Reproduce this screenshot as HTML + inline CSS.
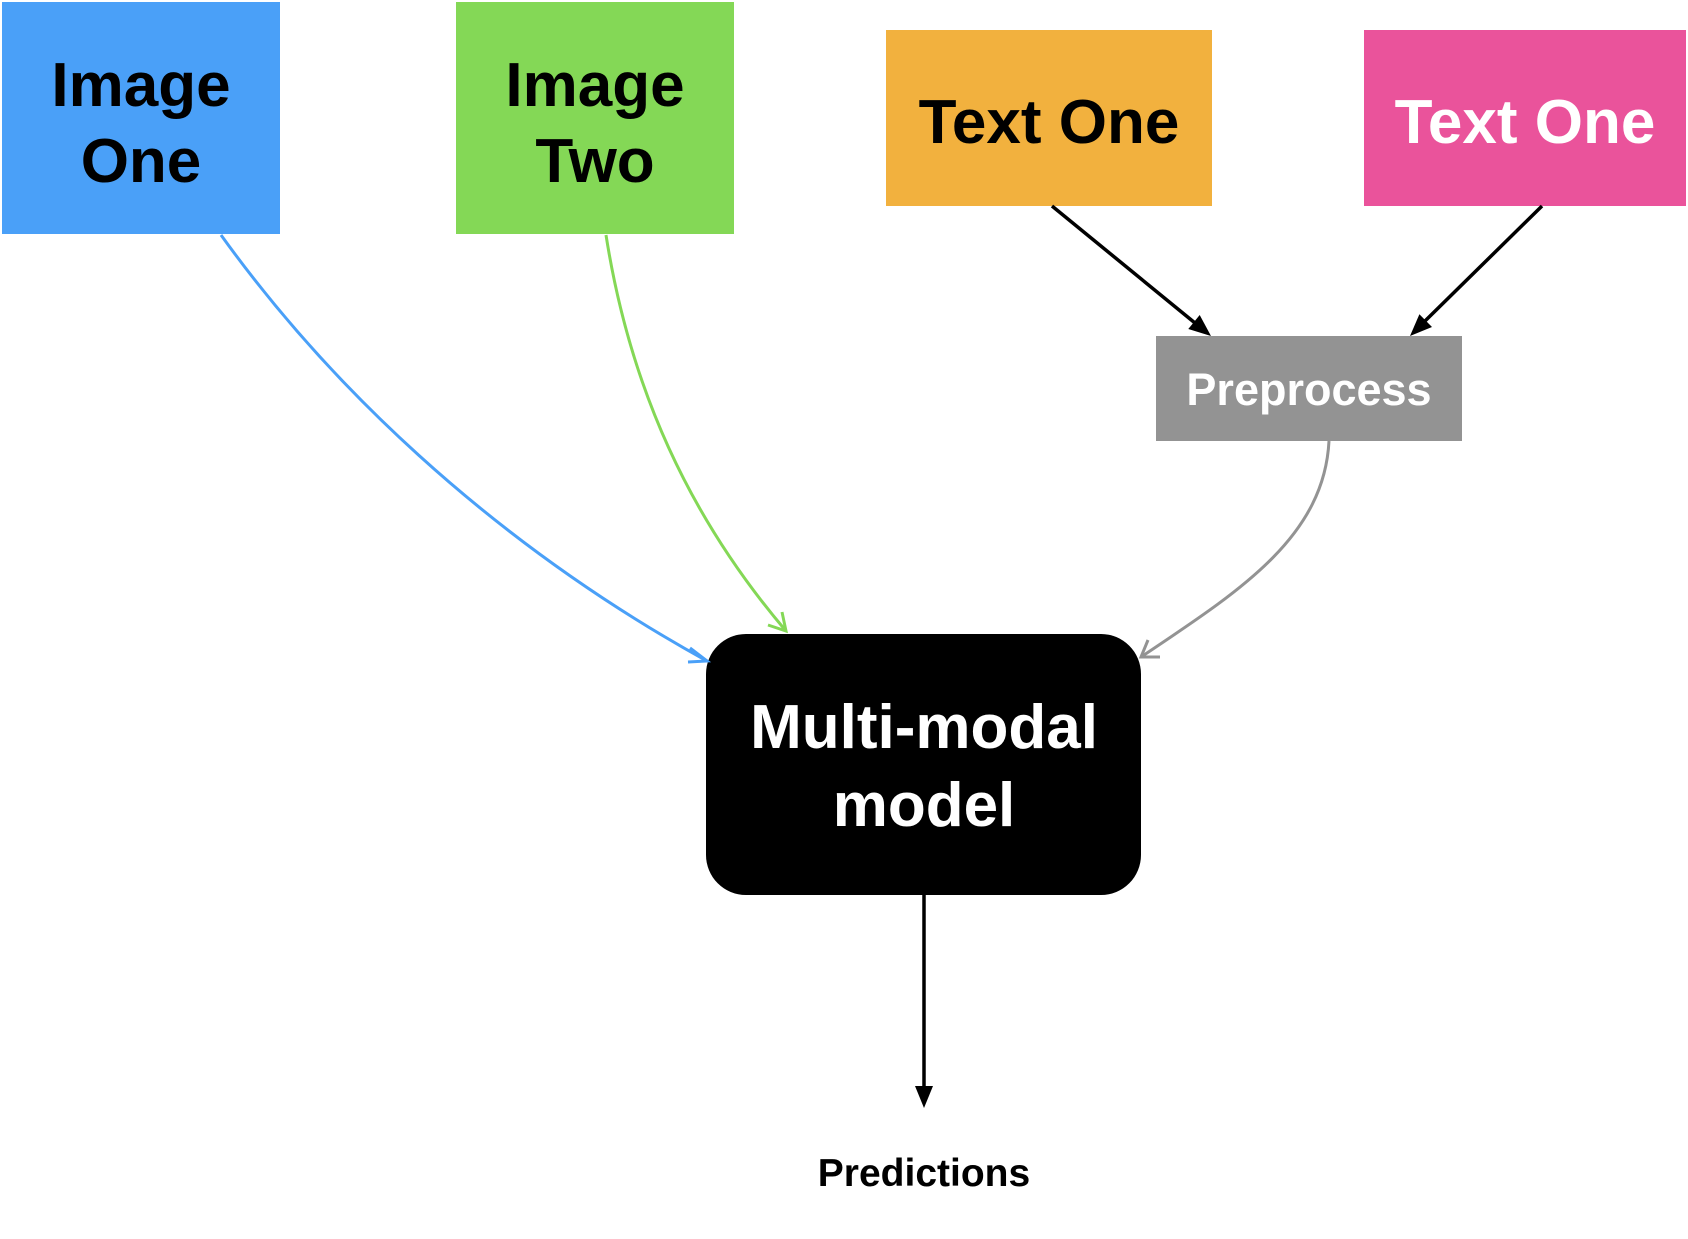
<!DOCTYPE html>
<html><head><meta charset="utf-8"><style>
html,body{margin:0;padding:0;background:#fff;}
body{width:1688px;height:1234px;overflow:hidden;}
text{font-family:"Liberation Sans",Arial,sans-serif;font-weight:bold;text-anchor:middle;}
</style></head><body>
<svg width="1688" height="1234" viewBox="0 0 1688 1234" xmlns="http://www.w3.org/2000/svg">
<rect x="2" y="2" width="278" height="232" fill="#4aa0f8"/>
<rect x="456" y="2" width="278" height="232" fill="#84d856"/>
<rect x="886" y="30" width="326" height="176" fill="#f2b13e"/>
<rect x="1364" y="30" width="322" height="176" fill="#ea539b"/>
<rect x="1156" y="336" width="306" height="105" fill="#939393"/>
<rect x="706" y="634" width="435" height="261" rx="40" ry="40" fill="#000"/>

<text x="141" y="106" font-size="62">Image</text>
<text x="141" y="182" font-size="62">One</text>
<text x="595" y="106" font-size="62">Image</text>
<text x="595" y="182" font-size="62">Two</text>
<text x="1049" y="143" font-size="62">Text One</text>
<text x="1525" y="143" font-size="62" fill="#fff">Text One</text>
<text x="1309" y="405" font-size="45" fill="#fff">Preprocess</text>
<text x="924" y="748" font-size="62" fill="#fff">Multi-modal</text>
<text x="924" y="826" font-size="62" fill="#fff">model</text>
<text x="924" y="1186" font-size="39">Predictions</text>

<path d="M221,235 C323,377 484,538 707,661" fill="none" stroke="#4aa0f8" stroke-width="3"/>
<path d="M690,648 L707,661 L688,662" fill="none" stroke="#4aa0f8" stroke-width="3"/>
<path d="M606,235 C630,388 689,517 786,631" fill="none" stroke="#84d856" stroke-width="3"/>
<path d="M782,612 L786,631 L768,625" fill="none" stroke="#84d856" stroke-width="3"/>
<path d="M1329,441 C1324,538 1238,592 1141,657" fill="none" stroke="#939393" stroke-width="3"/>
<path d="M1148,640 L1141,657 L1160,657" fill="none" stroke="#939393" stroke-width="3"/>

<line x1="1052" y1="206" x2="1195" y2="323" stroke="#000" stroke-width="3.5"/>
<polygon points="1211,336 1188.3,329 1199.7,315" fill="#000"/>
<line x1="1542" y1="206" x2="1424" y2="322" stroke="#000" stroke-width="3.5"/>
<polygon points="1410,336 1419.4,314.2 1432,327" fill="#000"/>
<line x1="924" y1="895" x2="924" y2="1088" stroke="#000" stroke-width="3.5"/>
<polygon points="924,1108 915,1086 933,1086" fill="#000"/>
</svg>
</body></html>
